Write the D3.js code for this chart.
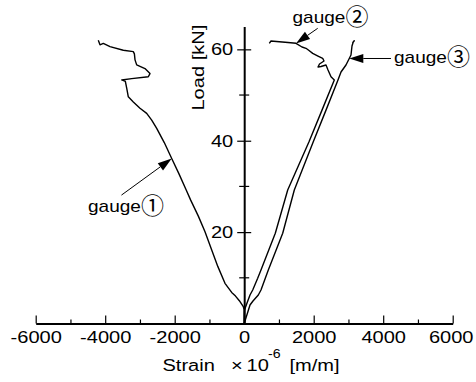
<!DOCTYPE html>
<html>
<head>
<meta charset="utf-8">
<script src="https://cdn.jsdelivr.net/npm/d3@7"></script>
<style>
  body { margin: 0; background: #fff; }
  svg { display: block; font-family: "Liberation Sans", Arial, sans-serif; }
</style>
</head>
<body>
<div id="chart"></div>
<script>
// strain (x10^-6 m/m), load (kN)
const gauge1 = [
  [0, 0], [0, 3.0], [-26, 3.7], [-121, 4.8], [-250, 6.0], [-360, 6.8], [-553, 8.8],
  [-760, 12.5], [-935, 16.1], [-1128, 20.1], [-1320, 23.5], [-1540, 27], [-1669, 29.2],
  [-1880, 32.8], [-2086, 36.1], [-2300, 39.6], [-2518, 42.7], [-2662, 44.5], [-2806, 46.0],
  [-2999, 47.1], [-3191, 48.5], [-3335, 49.6], [-3381, 51.5], [-3420, 53.0], [-3525, 53.3],
  [-3237, 53.6], [-2760, 54.0], [-2711, 54.7], [-2855, 55.8], [-3094, 56.6], [-3142, 57.7],
  [-3160, 59.0], [-3191, 59.5], [-3479, 59.8], [-3862, 60.6], [-4055, 61.3], [-4150, 61.0],
  [-4199, 62.0]
];
const gauge2 = [
  [0, 0], [9, 2.95], [81, 4.49], [167, 6.24], [245, 7.33], [388, 9.89], [483, 11.71],
  [895, 19.74], [1252, 29.22], [1865, 39.79], [2239, 46.7], [2593, 53.29], [2498, 54.01],
  [2412, 55.48], [2354, 56.58], [2210, 56.25], [2124, 56.14], [2167, 56.79], [2296, 57.45],
  [2259, 58.04], [2124, 58.54], [1971, 59.13], [1865, 59.75], [1778, 60.23], [1663, 60.51],
  [1491, 61.32], [1260, 61.5], [1010, 61.67], [771, 61.83], [722, 61.32]
];
const gauge3 = [
  [0, 0], [167, 4.05], [253, 4.92], [406, 6.24], [483, 7.33], [607, 9.89], [694, 11.71],
  [1108, 19.74], [1442, 29.22], [1988, 39.79], [2354, 46.7], [2699, 53.29], [2786, 55.04],
  [2929, 56.58], [3016, 57.89], [3073, 58.76], [3102, 60.73], [3140, 61.67], [3168, 61.89],
  [3116, 61.39]
];
const xMajor = [-6000, -4000, -2000, 0, 2000, 4000, 6000];
const xMinor = [-5000, -3000, -1000, 1000, 3000, 5000];
const yMajor = [20, 40, 60];
const yMinor = [10, 30, 50];
// annotation arrows: [tail, tip] in data units
const arrows = [
  { name: "gauge", num: "①", tail: [-3532, 28.1], tip: [-2086, 36.1] },
  { name: "gauge", num: "②", tail: [2115, 64.6], tip: [1491, 61.3] },
  { name: "gauge", num: "③", tail: [4224, 58.0], tip: [3024, 58.0] }
];

const W = 476, H = 382;
const sx = 1.18; // glyphs in the original are wider than Arial

const svg = d3.select("#chart").append("svg")
  .attr("width", W).attr("height", H);

const x = d3.scaleLinear().domain([-6000, 6000]).range([35.7, 452.7]);
const y = d3.scaleLinear().domain([0, 65]).range([323.5, 26.5]);

// x axis
const xAxisG = svg.append("g")
  .attr("transform", `translate(0,${y(0)})`)
  .call(d3.axisBottom(x).tickValues(xMajor).tickFormat(d => String(d))
    .tickSizeInner(-8).tickSizeOuter(0).tickPadding(7));
xAxisG.select(".domain").attr("stroke-width", 2);
xAxisG.selectAll(".tick line").attr("stroke-width", 1.2);
xAxisG.selectAll(".tick text")
  .attr("font-size", 17)
  .attr("font-family", "Liberation Sans, Arial, sans-serif")
  .attr("fill", "#000")
  .attr("transform", `scale(${sx},1)`);
// keep the last label inside the frame
xAxisG.selectAll(".tick text").filter(d => d === 6000).attr("transform", `translate(-2,0) scale(${sx},1)`);

svg.append("g")
  .attr("transform", `translate(0,${y(0)})`)
  .call(d3.axisBottom(x).tickValues(xMinor).tickSizeInner(-4).tickSizeOuter(0).tickFormat(""))
  .call(g => g.select(".domain").remove())
  .selectAll(".tick line").attr("stroke-width", 1.2);

// y axis at strain = 0
const yAxisG = svg.append("g")
  .attr("transform", `translate(${x(0)},0)`)
  .call(d3.axisLeft(y).tickValues(yMajor).tickSizeInner(7).tickSizeOuter(0).tickPadding(4));
yAxisG.select(".domain").attr("stroke-width", 2);
yAxisG.selectAll(".tick line").attr("x2", 7).attr("x1", -7).attr("stroke-width", 1.2);
yAxisG.selectAll(".tick text")
  .attr("x", null)
  .attr("font-size", 17)
  .attr("font-family", "Liberation Sans, Arial, sans-serif")
  .attr("fill", "#000")
  .attr("transform", `translate(-11,0) scale(${sx},1)`);

svg.append("g")
  .attr("transform", `translate(${x(0)},0)`)
  .selectAll("line")
  .data(yMinor)
  .join("line")
  .attr("x1", -5).attr("x2", 5)
  .attr("y1", d => y(d)).attr("y2", d => y(d))
  .attr("stroke", "#000").attr("stroke-width", 1.2);

// axis titles
svg.append("text")
  .attr("transform", `translate(203.5,${(y(65) + y(47)) / 2}) rotate(-90) scale(${sx},1)`)
  .attr("text-anchor", "middle")
  .attr("font-size", 17)
  .text("Load [kN]");

const xt = svg.append("g").attr("font-size", 17);
xt.append("text").attr("transform", `translate(162.5,370.5) scale(${sx},1)`).text("Strain");
xt.append("text").attr("transform", `translate(231,370.5) scale(${sx},1)`)
  .attr("font-weight", 300).text("×");
xt.append("text").attr("transform", `translate(246.5,370.5) scale(${sx},1)`).text("10");
xt.append("text").attr("transform", `translate(268,357.5) scale(${sx},1)`)
  .attr("font-size", 12).text("-6");
xt.append("text").attr("transform", `translate(289.5,370.5) scale(${sx},1)`).text("[m/m]");

// curves
const line = d3.line().x(d => x(d[0])).y(d => y(d[1]));
svg.selectAll(".curve")
  .data([gauge1, gauge2, gauge3])
  .join("path")
  .attr("class", "curve")
  .attr("d", line)
  .attr("fill", "none")
  .attr("stroke", "#000")
  .attr("stroke-width", 1.4)
  .attr("stroke-linejoin", "round");

// annotation arrows
const labelPos = [[88, 211.5], [292.5, 22.5], [394, 63]];
arrows.forEach((a, i) => {
  const x0 = x(a.tail[0]), y0 = y(a.tail[1]);
  const x1 = x(a.tip[0]), y1 = y(a.tip[1]);
  const ang = Math.atan2(y1 - y0, x1 - x0);
  const len = 14, hw = 4.5;
  const bx = x1 - len * Math.cos(ang), by = y1 - len * Math.sin(ang);
  svg.append("line")
    .attr("x1", x0).attr("y1", y0).attr("x2", bx).attr("y2", by)
    .attr("stroke", "#000").attr("stroke-width", 1);
  svg.append("path")
    .attr("d", `M${x1},${y1}L${bx - hw * Math.sin(ang)},${by + hw * Math.cos(ang)}L${bx + hw * Math.sin(ang)},${by - hw * Math.cos(ang)}Z`)
    .attr("fill", "#000");
  const [lx, ly] = labelPos[i];
  svg.append("text")
    .attr("transform", `translate(${lx},${ly}) scale(1.12,1)`)
    .attr("font-size", 17)
    .text(a.name);
  svg.append("text")
    .attr("x", lx + 53).attr("y", ly + 2)
    .attr("font-size", 23)
    .attr("font-family", "Noto Sans CJK JP, DejaVu Sans, sans-serif")
    .text(a.num);
});
</script>
</body>
</html>
